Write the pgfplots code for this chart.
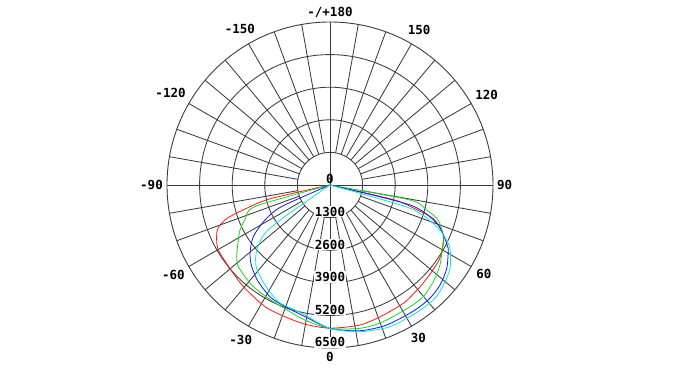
\documentclass[border=0pt]{standalone}
\usepackage{pgfplots}
\pgfplotsset{compat=1.18}
\usepackage{pgfplotstable}
\usepgfplotslibrary{polar}
\usepackage{fontspec}
\newfontfamily\ticfont{DejaVu Sans Mono}
\newcommand{\tf}{\ticfont\bfseries\fontsize{12.5bp}{14bp}\selectfont}
\definecolor{gridc}{RGB}{60,60,60}
\definecolor{cRed}{RGB}{255,20,20}
\definecolor{cGreen}{RGB}{20,220,20}
\definecolor{cBlue}{RGB}{20,20,255}
\definecolor{cCyan}{RGB}{0,235,235}

\pgfplotstableread{
a I
-90 0
-77 2460
-74 3600
-72 4330
-69 4780
-65.5 4970
-60 5150
-50 5200
-40 5330
-28 5500
-19 5550
-10 5640
0 5710
12 5710
21 5620
32 5550
41.5 5420
49.6 5330
56 5270
62 5110
65 5000
68 4800
72 4330
74 3650
77 2600
90 0
}\redtab

\pgfplotstableread{
a I
-90 0
-74 3100
-68 3650
-63.4 4013
-59 4264
-52.5 4693
-48 4900
-38 5065
-28.6 5145
-18.4 5280
-10.5 5480
0 5720
12 5840
21 5850
33 5810
40 5800
47 5640
54 5420
62 5090
66 4940
72 4540
75.5 3983
79.4 3246
90 0
}\greentab

\pgfplotstableread{
a I
-90 0
-66 2110
-61.7 2944
-56 3689
-49.5 4195
-44 4500
-36.6 4800
-27.2 5082
-17 5214
-10.7 5345
0 5720
11.6 5933
22 6023
34 6030
41.4 6020
47.7 5930
54.5 5720
61.8 5350
64 5150
70.3 4521
76 3290
90 0
}\bluetab

\pgfplotstableread{
a I
-90 0
-55 2195
-53.4 3230
-48.4 3908
-42 4400
-33 4757
-23.9 5090
-15.6 5177
-10.9 5280
0 5720
11.6 5971
22.9 6136
34.4 6150
42.8 6160
48.6 6030
55.2 5830
62.2 5410
65 5100
68.7 4570
73.8 3323
90 0
}\cyantab

\begin{document}
\begin{tikzpicture}
\begin{polaraxis}[
  width=326bp, height=326bp, scale only axis,
  ymin=0, ymax=6500,
  xtick={0,30,...,330},
  xticklabels={90,120,150,{-/+180},-150,-120,-90,-60,-30,0,30,60},
  ytick={1300,2600,3900,5200},
  yticklabels={},
  ymajorgrids, xmajorgrids=false,
  major grid style={draw=gridc, line width=0.85bp},
  axis line style={draw=gridc, line width=0.9bp},
  tick style={draw=none},
  xticklabel style={font=\tf, inner sep=4bp},
  clip=false,
]
\coordinate (C) at (axis cs:0,0);
\pgfplotsinvokeforeach{10,20,30,40,50,60,70,80,100,110,120,130,140,150,160,170,190,200,210,220,230,240,250,260,280,290,300,310,320,330,340,350}{
  \draw[gridc, line width=0.85bp] (axis cs:#1,1300) -- (axis cs:#1,6500);
}
\draw[gridc, line width=0.85bp] (axis cs:0,6500) -- (axis cs:180,6500);
\draw[gridc, line width=0.85bp] (axis cs:90,6500) -- (axis cs:270,6500);

\addplot[cRed, line width=0.8bp, no marks, smooth, tension=0.45] table[x expr=\thisrow{a}-90, y=I] {\redtab};
\addplot[cGreen, line width=0.8bp, no marks, smooth, tension=0.45] table[x expr=\thisrow{a}-90, y=I] {\greentab};
\addplot[cBlue, line width=0.8bp, no marks, smooth, tension=0.45] table[x expr=\thisrow{a}-90, y=I] {\bluetab};
\addplot[cCyan, line width=0.8bp, no marks, smooth, tension=0.45] table[x expr=\thisrow{a}-90, y=I] {\cyantab};

\node[font=\tf, anchor=south, inner sep=1bp] at (axis cs:0,0) {0};
\pgfplotsinvokeforeach{1300,2600,3900,5200,6500}{
  \node[font=\tf, anchor=south, fill=white, inner sep=0.8bp] at (axis cs:270,#1) {#1};
}
\end{polaraxis}
\path[use as bounding box] (C) ++(-330bp,-195bp) rectangle ++(678bp,380bp);
\end{tikzpicture}
\end{document}
